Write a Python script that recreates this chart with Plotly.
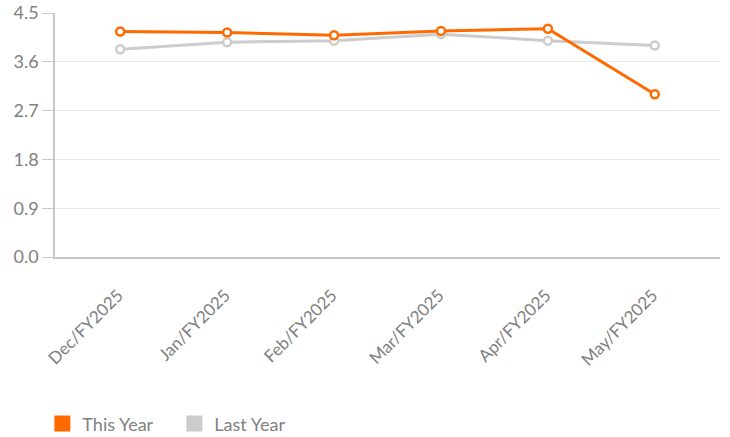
import plotly.graph_objects as go

categories = ["Dec/FY2025", "Jan/FY2025", "Feb/FY2025", "Mar/FY2025", "Apr/FY2025", "May/FY2025"]
this_year = [4.16, 4.14, 4.09, 4.17, 4.21, 3.00]
last_year = [3.83, 3.96, 3.99, 4.11, 3.99, 3.90]
y_ticks = [0.0, 0.9, 1.8, 2.7, 3.6, 4.5]
y_tick_labels = ["0.0", "0.9", "1.8", "2.7", "3.6", "4.5"]

ORANGE = "#FF6A00"
GRAY = "#CCCCCC"
TXT = "#808080"
FONT = "Lato"

fig = go.Figure()
fig.add_trace(go.Scatter(
    x=categories, y=last_year, mode="lines+markers", showlegend=False,
    line=dict(color=GRAY, width=3),
    marker=dict(symbol="circle", size=8, color="white", line=dict(color=GRAY, width=2.5)),
))
fig.add_trace(go.Scatter(
    x=categories, y=this_year, mode="lines+markers", showlegend=False,
    line=dict(color=ORANGE, width=3),
    marker=dict(symbol="circle", size=8, color="white", line=dict(color=ORANGE, width=2.5)),
))
for name, col in [("This Year", ORANGE), ("Last Year", GRAY)]:
    fig.add_trace(go.Scatter(
        x=[None], y=[None], mode="markers", name=name,
        marker=dict(symbol="square", size=19, color=col),
    ))

fig.update_layout(
    width=730, height=437,
    margin=dict(l=55, r=10, t=13, b=180, autoexpand=False),
    paper_bgcolor="white", plot_bgcolor="white",
    font=dict(family=FONT, size=17, color=TXT),
    showlegend=True,
    legend=dict(orientation="h", x=-0.019, xanchor="left", y=-0.684, yanchor="middle",
                font=dict(family=FONT, size=18, color=TXT),
                itemsizing="trace", itemwidth=30, tracegroupgap=0,
                entrywidth=87, entrywidthmode="pixels"),
    xaxis=dict(
        type="category", range=[-0.61, 5.61],
        tickangle=-45, showgrid=False, automargin=False,
        showline=True, linecolor="#C8C8C8", linewidth=1.5,
        ticks="", ticklabelshift=-2, ticklabelstandoff=20,
        tickfont=dict(family=FONT, size=17, color=TXT),
    ),
    yaxis=dict(
        range=[0, 4.5], tickvals=y_ticks, ticktext=y_tick_labels,
        showgrid=True, gridcolor="#E8E8E8", gridwidth=1, automargin=False,
        showline=True, linecolor="#C8C8C8", linewidth=1.5,
        ticks="outside", ticklen=11, tickcolor="#C8C8C8",
        tickfont=dict(family=FONT, size=18, color=TXT),
        zeroline=False,
    ),
)

fig.write_html("out.html", config={"displayModeBar": False},
               post_script="document.body.style.margin='0';")
